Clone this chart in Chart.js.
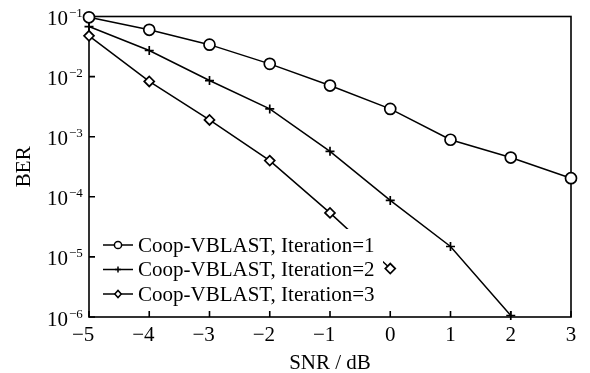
<!DOCTYPE html>
<html><head><meta charset="utf-8">
<script src="https://cdn.jsdelivr.net/npm/chart.js@4/dist/chart.umd.min.js"></script>
<style>html,body{margin:0;padding:0;background:#fff;}#wrap{width:590px;height:373px;position:relative;}</style>
</head><body><div id="wrap"><canvas id="c" width="590" height="373"></canvas></div>
<script>
const snr = [-5, -4, -3, -2, -1, 0, 1, 2, 3];
const iter1 = [0.097, 0.060, 0.034, 0.0163, 0.0071, 0.0029, 8.9e-4, 4.5e-4, 2.04e-4];
const iter2 = [0.068, 0.0272, 0.0086, 0.0029, 5.7e-4, 8.7e-5, 1.49e-5, 1.06e-6];
const iter3 = [0.0477, 0.0083, 0.0019, 4.0e-4, 5.4e-5, 6.4e-6];
const seriesNames = ['Coop-VBLAST, Iteration=1', 'Coop-VBLAST, Iteration=2', 'Coop-VBLAST, Iteration=3'];
const xTicks = [-5, -4, -3, -2, -1, 0, 1, 2, 3];
const xTickLabels = ['\u22125', '\u22124', '\u22123', '\u22122', '\u22121', '0', '1', '2', '3'];
const yTicks = [1e-1, 1e-2, 1e-3, 1e-4, 1e-5, 1e-6];
const yTickBase = '10';
const yTickExps = ['\u22121', '\u22122', '\u22123', '\u22124', '\u22125', '\u22126'];
const xTitle = 'SNR / dB';
const yTitle = 'BER';

const FONT = '"Liberation Serif", "Times New Roman", serif';

function pts(ys) { return ys.map((v, i) => ({x: snr[i], y: v})); }

function marker(ctx, style, x, y, r) {
  ctx.beginPath();
  if (style === 'circle') {
    ctx.arc(x, y, r, 0, Math.PI * 2);
    ctx.fill(); ctx.stroke();
  } else if (style === 'cross') {
    ctx.moveTo(x - r, y); ctx.lineTo(x + r, y);
    ctx.moveTo(x, y - r); ctx.lineTo(x, y + r);
    ctx.stroke();
  } else {
    ctx.moveTo(x - r * 0.9, y); ctx.lineTo(x, y - r); ctx.lineTo(x + r * 0.9, y); ctx.lineTo(x, y + r); ctx.closePath();
    ctx.fill(); ctx.stroke();
  }
}

const framePlugin = {
  id: 'frame',
  beforeDatasetsDraw(chart) {
    const {ctx, chartArea: a, scales: {x, y}} = chart;
    ctx.save();
    ctx.strokeStyle = '#000'; ctx.lineWidth = 1.6;
    ctx.strokeRect(a.left, a.top, a.right - a.left, a.bottom - a.top);
    ctx.beginPath();
    xTicks.forEach(v => { const px = x.getPixelForValue(v); ctx.moveTo(px, a.bottom); ctx.lineTo(px, a.bottom - 6); });
    yTicks.forEach(v => { const py = y.getPixelForValue(v); ctx.moveTo(a.left, py); ctx.lineTo(a.left + 6, py); });
    ctx.stroke();
    ctx.fillStyle = '#000';
    ctx.font = '21px ' + FONT;
    ctx.textBaseline = 'alphabetic';
    xTicks.forEach((v, i) => {
      const px = x.getPixelForValue(v);
      const lab = xTickLabels[i];
      const digit = lab.replace('\u2212', '');
      const dw = ctx.measureText(digit).width;
      ctx.textAlign = 'right';
      ctx.fillText(lab, px + dw / 2, a.bottom + 24);
    });
    yTicks.forEach((v, i) => {
      const py = y.getPixelForValue(v);
      ctx.font = '21px ' + FONT;
      ctx.textAlign = 'right';
      ctx.fillText(yTickBase, a.left - 21, py + 8.5);
      ctx.font = '13px ' + FONT;
      ctx.textAlign = 'left';
      ctx.fillText(yTickExps[i], a.left - 20, py + 0.5);
    });
    ctx.font = '21px ' + FONT;
    ctx.textAlign = 'center';
    ctx.fillText(xTitle, (a.left + a.right) / 2, 369);
    ctx.save();
    ctx.translate(30, (a.top + a.bottom) / 2);
    ctx.rotate(-Math.PI / 2);
    ctx.fillText(yTitle, 0, 0);
    ctx.restore();
    ctx.restore();
  }
};

const legendPlugin = {
  id: 'boxLegend',
  afterDatasetsDraw(chart) {
    const ctx = chart.ctx;
    ctx.save();
    ctx.fillStyle = '#fff';
    ctx.fillRect(97, 229, 286, 81);
    chart.data.datasets.forEach((ds, i) => {
      const y = 245 + i * 24.5;
      ctx.strokeStyle = '#000'; ctx.lineWidth = 1.5;
      ctx.beginPath(); ctx.moveTo(103, y); ctx.lineTo(133, y); ctx.stroke();
      ctx.fillStyle = '#fff';
      marker(ctx, ds.pointStyle, 118, y, ds.pointStyle === 'cross' ? 3 : 3.6);
      ctx.fillStyle = '#000';
      ctx.font = '21px ' + FONT;
      ctx.textAlign = 'left';
      ctx.textBaseline = 'alphabetic';
      ctx.fillText(ds.label, 138, y + 6.5);
    });
    ctx.restore();
  }
};

const common = {borderColor: '#000', borderWidth: 1.5, pointBorderColor: '#000', pointBackgroundColor: '#fff', pointBorderWidth: 1.7, tension: 0, clip: false, fill: false};

new Chart(document.getElementById('c'), {
  type: 'line',
  data: {
    datasets: [
      Object.assign({label: seriesNames[0], data: pts(iter1), pointStyle: 'circle', pointRadius: 5.5}, common),
      Object.assign({label: seriesNames[1], data: pts(iter2), pointStyle: 'cross', pointRadius: 4.5}, common),
      Object.assign({label: seriesNames[2], data: pts(iter3), pointStyle: 'rectRot', pointRadius: 5}, common)
    ]
  },
  options: {
    responsive: false,
    animation: false,
    devicePixelRatio: 1,
    layout: {padding: {left: 89, right: 19, top: 16.5, bottom: 56}},
    plugins: {legend: {display: false}, tooltip: {enabled: false}},
    scales: {
      x: {type: 'linear', min: -5, max: 3, display: false},
      y: {type: 'logarithmic', min: 1e-6, max: 1e-1, display: false}
    }
  },
  plugins: [framePlugin, legendPlugin]
});
</script>
</body></html>
